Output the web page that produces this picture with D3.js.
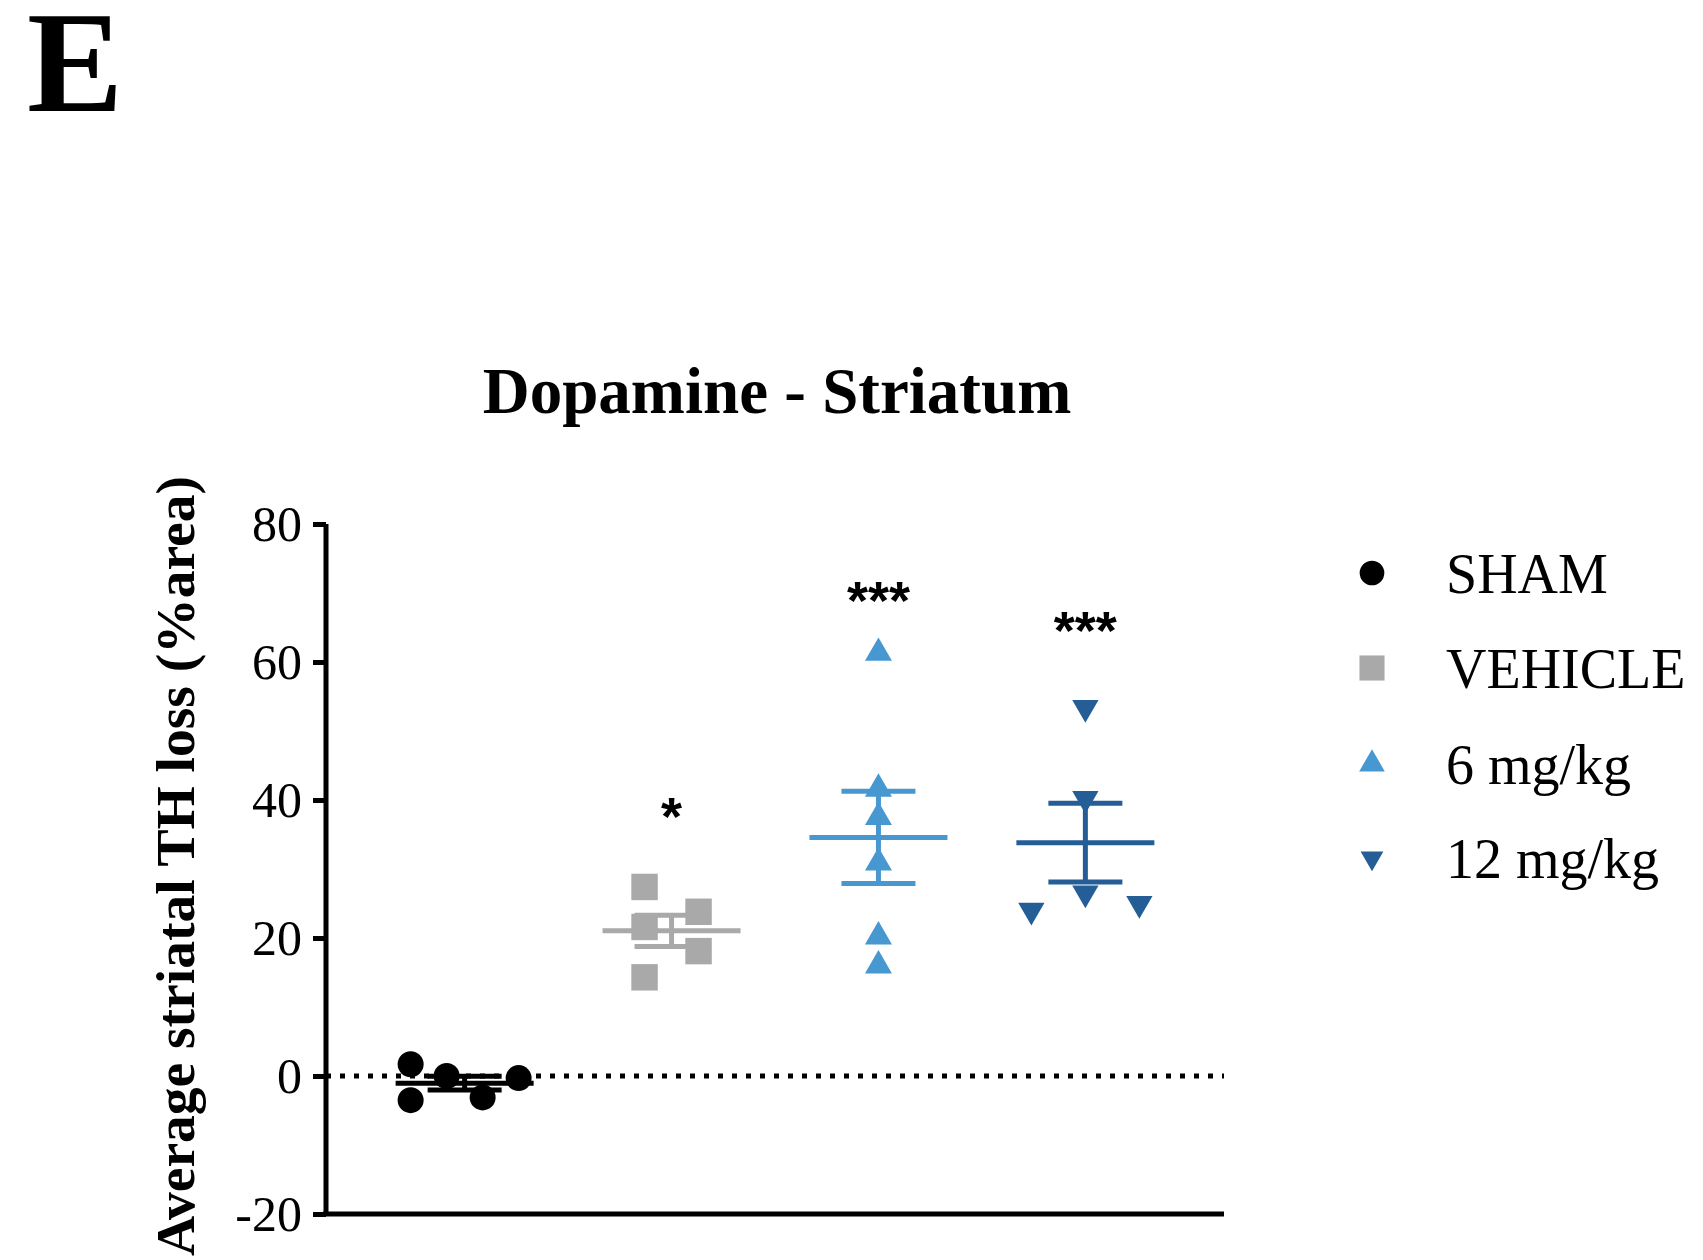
<!DOCTYPE html>
<html>
<head>
<meta charset="utf-8">
<script src="https://cdn.jsdelivr.net/npm/d3@7"></script>
<style>
  body { margin: 0; background: #fff; }
  svg text { font-family: "Liberation Serif", "Times New Roman", serif; fill: #000; }
</style>
</head>
<body>
<div id="svg"></div>
<script>
// groups and per-animal values
const groups = ['SHAM', 'VEHICLE', '6 mg/kg', '12 mg/kg'];
const shamValues = [1.7, -3.5, 0.0, -3.1, -0.3];
const vehicleValues = [27.4, 21.6, 23.8, 18.1, 14.3];
const mg6Values = [61.3, 41.6, 37.5, 30.9, 20.2, 16.0];
const mg12Values = [53.4, 40.2, 26.5, 24.0, 25.0];
// scatter slot of each point inside its column (Prism-style spread)
const shamSlots = [-1.5, -1.5, -0.5, 0.5, 1.5];
const vehicleSlots = [-0.75, -0.75, 0.75, 0.75, -0.75];
const mg6Slots = [0, 0, 0, 0, 0, 0];
const mg12Slots = [0, 0, 0, -1.5, 1.5];
// significance marks and the value where they sit
const sigLabels = ['', '*', '***', '***'];
const sigValues = [null, 34.9, 66.2, 61.9];
const yTicks = [-20, 0, 20, 40, 60, 80];

function makeGraph(){
    let w = 1703;
    let h = 1260;

    let colors = ['#000000', '#a9a9a9', '#4797d0', '#255d97'];
    let shapes = [d3.symbolCircle, d3.symbolSquare, d3.symbolTriangle, d3.symbolTriangle];
    let sizes = [530, 700, 316, 300];
    let rotations = [0, 0, 0, 180];

    let allValues = [shamValues, vehicleValues, mg6Values, mg12Values];
    let allSlots = [shamSlots, vehicleSlots, mg6Slots, mg12Slots];

    let svg = d3.select('#svg').append('svg').attr('width', w).attr('height', h);
    svg.append('rect').attr('width', w).attr('height', h).attr('fill', '#fff');

    let yScale = d3.scaleLinear()
                .domain([-20, 80])
                .range([1214, 524]);

    let xScale = d3.scalePoint()
                .domain(groups)
                .range([326, 1224])
                .padding(0.67);

    let slotWidth = 36;

    // dotted zero line
    svg.append('line')
      .attr('x1', 326).attr('x2', 1224)
      .attr('y1', yScale(0)).attr('y2', yScale(0))
      .attr('stroke', '#000')
      .attr('stroke-width', 5)
      .attr('stroke-dasharray', '5,9');

    // y axis
    let yAxis = d3.axisLeft(yScale).tickValues(yTicks).tickSize(13).tickPadding(11)
                .tickFormat((d) => String(d));
    let yAxisGroup = svg.append('g')
                    .attr('transform', 'translate(326, 0)')
                    .call(yAxis);
    yAxisGroup.select('.domain').attr('stroke-width', 5).attr('d', `M0,${yScale(-20)}V${yScale(80)}`);
    yAxisGroup.selectAll('.tick line').attr('stroke-width', 5);
    yAxisGroup.selectAll('.tick text')
      .attr('font-family', '"Liberation Serif", serif')
      .attr('font-size', 50)
      .attr('fill', '#000');

    // x axis line, no ticks
    let xAxis = d3.axisBottom(xScale).tickSize(0).tickFormat('');
    let xAxisGroup = svg.append('g')
                    .attr('transform', `translate(0, ${yScale(-20)})`)
                    .call(xAxis);
    xAxisGroup.select('.domain').attr('stroke-width', 5).attr('d', 'M323,0H1224');

    // points
    groups.forEach((g, i) => {
      let pts = allValues[i].map((v, j) => ({v: v, slot: allSlots[i][j]}));
      svg.append('g').selectAll('path')
        .data(pts)
        .enter()
          .append('path')
          .attr('d', d3.symbol().type(shapes[i]).size(sizes[i]))
          .attr('transform', (d) => `translate(${xScale(g) + d.slot * slotWidth}, ${yScale(d.v)}) rotate(${rotations[i]})`)
          .attr('fill', colors[i]);
    });

    // mean and SEM
    groups.forEach((g, i) => {
      let vals = allValues[i];
      let mean = d3.mean(vals);
      let sem = d3.deviation(vals) / Math.sqrt(vals.length);
      let cx = xScale(g);
      let grp = svg.append('g').attr('stroke', colors[i]).attr('stroke-width', 5);
      grp.append('line').attr('x1', cx - 69).attr('x2', cx + 69)
        .attr('y1', yScale(mean)).attr('y2', yScale(mean));
      grp.append('line').attr('x1', cx).attr('x2', cx)
        .attr('y1', yScale(mean + sem)).attr('y2', yScale(mean - sem));
      [mean + sem, mean - sem].forEach((v) => {
        grp.append('line').attr('x1', cx - 37).attr('x2', cx + 37)
          .attr('y1', yScale(v)).attr('y2', yScale(v));
      });
    });

    // significance stars
    groups.forEach((g, i) => {
      if (!sigLabels[i]) return;
      svg.append('text')
        .attr('x', xScale(g))
        .attr('y', yScale(sigValues[i]))
        .attr('text-anchor', 'middle')
        .style('font-family', '"Liberation Sans", Arial, sans-serif')
        .attr('font-weight', 'bold')
        .attr('font-size', 54)
        .text(sigLabels[i]);
    });

    // legend
    let legend = svg.append('g');
    let rowY = [573, 668, 764, 858];
    groups.forEach((g, i) => {
      legend.append('path')
        .attr('d', d3.symbol().type(shapes[i]).size(sizes[i] * (i === 3 ? 0.75 : 0.9)))
        .attr('transform', `translate(1372, ${rowY[i]}) rotate(${rotations[i]})`)
        .attr('fill', colors[i]);
      legend.append('text')
        .attr('x', 1446)
        .attr('y', rowY[i])
        .attr('dy', '0.36em')
        .attr('font-size', 56)
        .text(g);
    });

    // title
    svg.append('text')
      .attr('x', 777)
      .attr('y', 413)
      .attr('text-anchor', 'middle')
      .attr('font-weight', 'bold')
      .attr('font-size', 65)
      .text('Dopamine - Striatum');

    // y axis label
    svg.append('text')
      .attr('transform', 'rotate(-90)')
      .attr('x', -866)
      .attr('y', 194)
      .attr('text-anchor', 'middle')
      .attr('font-weight', 'bold')
      .attr('font-size', 55.5)
      .text('Average striatal TH loss (%area)');

    // panel letter
    svg.append('text')
      .attr('x', 27)
      .attr('y', 111)
      .attr('font-weight', 'bold')
      .attr('font-size', 144)
      .text('E');
}

window.onload = function(){
    makeGraph();
}
</script>
</body>
</html>
